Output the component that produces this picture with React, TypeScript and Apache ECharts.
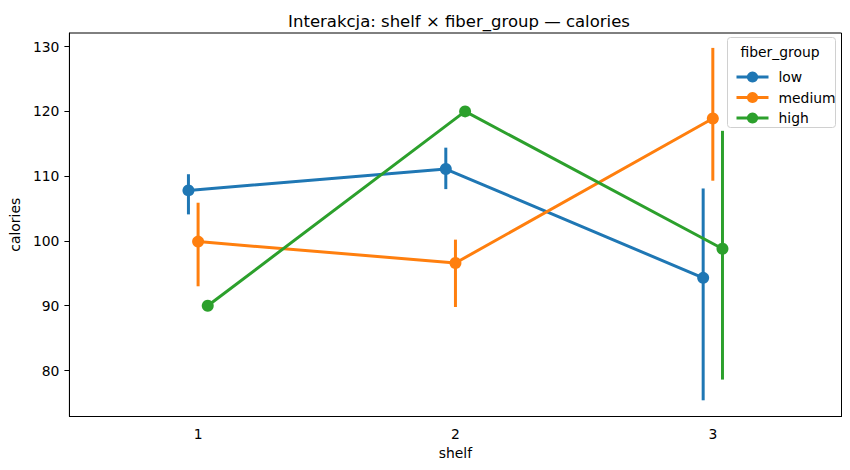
import React, { useEffect, useRef } from "react";
import * as echarts from "echarts";

const shelves = ["1", "2", "3"];
const groups = ["low", "medium", "high"];
const colors = ["#1f77b4", "#ff7f0e", "#2ca02c"];
const dodge = [-0.0375, 0, 0.0375];
const yTicks = [80, 90, 100, 110, 120, 130];

const lowMean = [107.8, 111.1, 94.3];
const lowLo = [104.1, 108.0, 75.4];
const lowHi = [110.3, 114.4, 108.1];

const medMean = [99.9, 96.6, 118.9];
const medLo = [93.0, 89.8, 109.3];
const medHi = [105.9, 100.2, 129.8];

const highMean = [90.0, 120.0, 98.8];
const highLo: (number | null)[] = [null, null, 78.6];
const highHi: (number | null)[] = [null, null, 117.0];

const means = [lowMean, medMean, highMean];
const los = [lowLo, medLo, highLo];
const his = [lowHi, medHi, highHi];

const FONT = "DejaVu Sans";
const FS = 13.9;

export default function App() {
  const ref = useRef<HTMLDivElement>(null);
  useEffect(() => {
    if (!ref.current) return;
    const chart = echarts.init(ref.current, null, { renderer: "svg" });
    const series: any[] = [];
    groups.forEach((g, gi) => {
      const errData: any[] = [];
      shelves.forEach((_, si) => {
        const lo = los[gi][si];
        const hi = his[gi][si];
        if (lo != null && hi != null) errData.push([si + dodge[gi], lo, hi]);
      });
      series.push({
        name: g + "_err",
        type: "custom",
        xAxisIndex: 1,
        z: 2 + gi * 3,
        data: errData,
        renderItem: (params: any, api: any) => {
          const p1 = api.coord([api.value(0), api.value(1)]);
          const p2 = api.coord([api.value(0), api.value(2)]);
          return {
            type: "line",
            shape: { x1: p1[0], y1: p1[1], x2: p2[0], y2: p2[1] },
            style: { stroke: colors[gi], lineWidth: 3 },
          };
        },
      });
      series.push({
        name: g,
        type: "line",
        xAxisIndex: 1,
        z: 3 + gi * 3,
        data: shelves.map((_, si) => [si + dodge[gi], means[gi][si]]),
        symbol: "circle",
        symbolSize: 12,
        showSymbol: true,
        lineStyle: { color: colors[gi], width: 3 },
        itemStyle: { color: colors[gi] },
        emphasis: { disabled: true },
      });
    });
    chart.setOption({
      animation: false,
      title: {
        text: "Interakcja: shelf × fiber_group — calories",
        left: 454,
        top: 8,
        textAlign: "center",
        textStyle: { fontFamily: FONT, fontSize: 16.5, fontWeight: "normal", color: "#000" },
      },
      grid: {
        left: 67,
        right: 8.5,
        top: 33,
        bottom: 53.5,
        show: true,
        borderColor: "#000",
        borderWidth: 1,
      },
      legend: {
        data: groups,
        orient: "vertical",
        left: 730,
        top: 65,
        itemWidth: 32,
        itemHeight: 14,
        itemGap: 6.5,
        z: 60,
        lineStyle: { width: 3 },
        textStyle: {
          fontFamily: FONT,
          fontSize: FS,
          fontWeight: "normal",
          color: "#000",
          padding: [0, 0, 0, 5],
        },
      },
      graphic: [
        {
          type: "rect",
          shape: { x: 727.5, y: 37.5, width: 108, height: 90, r: 3 },
          style: { fill: "rgba(255,255,255,0.8)", stroke: "#d0d0d0", lineWidth: 1 },
          z: 50,
        },
        {
          type: "text",
          x: 780,
          y: 51.5,
          style: {
            text: "fiber_group",
            fontFamily: FONT,
            fontSize: FS,
            fill: "#000",
            align: "center",
            verticalAlign: "middle",
          },
          z: 51,
        },
      ],
      xAxis: [
        {
          type: "category",
          data: shelves,
          boundaryGap: true,
          name: "shelf",
          nameLocation: "middle",
          nameGap: 29,
          nameTextStyle: { fontFamily: FONT, fontSize: FS, color: "#000" },
          axisLine: { onZero: false, lineStyle: { color: "#000", width: 1 } },
          axisTick: { alignWithLabel: true, length: 5, lineStyle: { color: "#000" } },
          axisLabel: { fontFamily: FONT, fontSize: FS, color: "#000", margin: 10 },
          splitLine: { show: false },
        },
        { type: "value", min: -0.5, max: 2.5, show: false },
      ],
      yAxis: {
        type: "value",
        min: 72.9,
        max: 132.1,
        name: "calories",
        nameLocation: "middle",
        nameGap: 43,
        nameTextStyle: { fontFamily: FONT, fontSize: FS, color: "#000" },
        axisLine: { show: true, onZero: false, lineStyle: { color: "#000", width: 1 } },
        axisTick: {
          show: true,
          length: 5,
          customValues: yTicks,
          lineStyle: { color: "#000" },
        },
        axisLabel: {
          fontFamily: FONT,
          fontSize: FS,
          color: "#000",
          margin: 10,
          customValues: yTicks,
        },
        splitLine: { show: false },
      },
      series,
    });
    return () => chart.dispose();
  }, []);
  return (
    <div
      ref={ref}
      style={{ position: "absolute", left: 0, top: 0, width: 850, height: 470 }}
    />
  );
}
